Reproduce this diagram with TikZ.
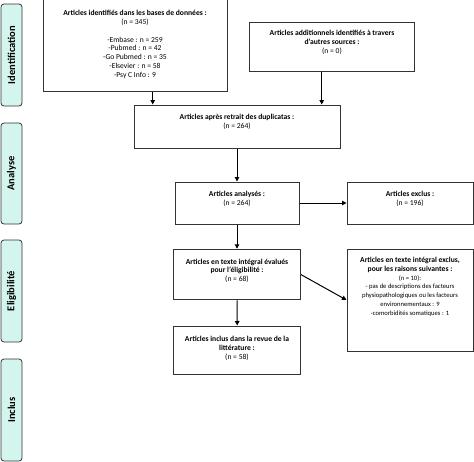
\documentclass[tikz,border=0pt]{standalone}
\usepackage{fontspec}
\setmainfont{Carlito}
\usetikzlibrary{arrows.meta}
\definecolor{tabfill}{HTML}{D4F4EE}
\definecolor{boxline}{HTML}{333333}
\begin{document}
\begin{tikzpicture}[x=1pt,y=-1pt,
  box/.style={draw=boxline, line width=1pt, inner sep=0pt},
  tab/.style={draw=boxline, fill=tabfill, rounded corners=3pt, line width=0.8pt, rotate=90, inner sep=0pt,
    minimum height=21pt, font=\fontsize{10.5}{11}\selectfont\bfseries},
  txt/.style={align=center, anchor=north, inner sep=0pt, font=\fontsize{7.6}{8.8}\selectfont},
  arr/.style={-{Triangle[length=4.5pt,width=4.5pt]}, line width=1pt, draw=black}]
\useasboundingbox (0,0) rectangle (474,461);

% side tabs
\node[tab, minimum width=102pt] (t1) at (11.5,55) {Identification};
\node[tab, minimum width=101pt] (t2) at (11.5,173.5) {Analyse};
\node[tab, minimum width=102pt] (t3) at (11.5,291) {Eligibilité};
\node[tab, minimum width=102pt] (t4) at (11.5,410) {Inclus};

% boxes
\node[box, minimum width=184pt, minimum height=94pt] (b1) at (135,44) {};
\node[box, minimum width=165pt, minimum height=49pt] (b2) at (331.5,46.5) {};
\node[box, minimum width=206pt, minimum height=43pt] (b3) at (237,126.5) {};
\node[box, minimum width=124pt, minimum height=42pt] (b4) at (237,203) {};
\node[box, minimum width=126pt, minimum height=42pt] (b5) at (410,203) {};
\node[box, minimum width=127pt, minimum height=50.7pt] (b6) at (237,274.6) {};
\node[box, minimum width=126pt, minimum height=102pt] (b7) at (410,300) {};
\node[box, minimum width=127.5pt, minimum height=48pt] (b8) at (237.2,350) {};

% texts
\node[txt] (x1) at (135,10.2) {\textbf{Articles identifiés dans les bases de données :}\\(n = 345)\\[8.8pt]
  -Embase : n = 259\\-Pubmed : n = 42\\-Go Pubmed : n = 35\\-Elsevier : n = 58\\-Psy C Info : 9};
\node[txt] (x2) at (332,30.2) {\textbf{Articles additionnels identifiés à travers}\\\textbf{d'autres sources :}\\(n = 0)};
\node[txt] (x3) at (237,114.2) {\textbf{Articles après retrait des duplicatas :}\\(n = 264)};
\node[txt] (x4) at (237,190.9) {\textbf{Articles analysés :}\\(n = 264)};
\node[txt] (x5) at (410,190.9) {\textbf{Articles exclus :}\\(n = 196)};
\node[txt] (x6) at (237,258.6) {\textbf{Articles en texte intégral évalués}\\\textbf{pour l'éligibilité :}\\(n = 68)};
\node[txt] (x7) at (410,256.9) {\textbf{Articles en texte intégral exclus,}\\\textbf{pour les raisons suivantes :}\\
  {\fontsize{6.6}{8.8}\selectfont (n = 10):}\\
  {\fontsize{6.6}{8.8}\selectfont - pas de descriptions des facteurs}\\
  {\fontsize{6.6}{8.8}\selectfont physiopathologiques ou les facteurs}\\
  {\fontsize{6.6}{8.8}\selectfont environnementaux : 9}\\
  {\fontsize{6.6}{8.8}\selectfont -comorbidités somatiques : 1}};
\node[txt] (x8) at (237,335.9) {\textbf{Articles inclus dans la revue de la}\\\textbf{littérature :}\\(n = 58)};

% arrows
\draw[arr] ([xshift=17.7pt]b1.south) -- ([xshift=17.7pt]b1.south |- b3.north);
\draw[arr] ([xshift=-9.8pt]b2.south) -- ([xshift=-9.8pt]b2.south |- b3.north);
\draw[arr] (b3.south) -- (b4.north);
\draw[arr] (b4.east) -- (b5.west);
\draw[arr] (b4.south) -- (b6.north);
\draw[arr] (b6.east) -- (b7.west);
\draw[arr] (b6.south) -- (b8.north);
\end{tikzpicture}
\end{document}
